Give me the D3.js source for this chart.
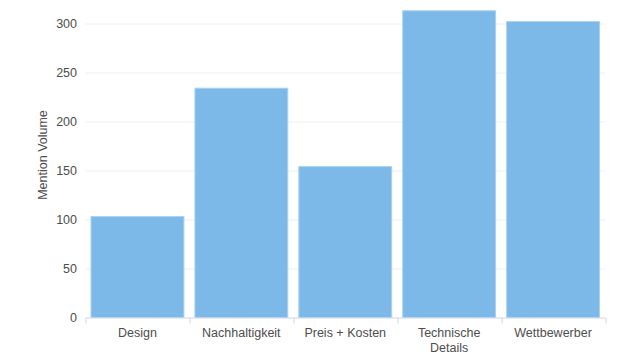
<!DOCTYPE html>
<html>
<head>
<meta charset="utf-8">
<script src="https://cdn.jsdelivr.net/npm/d3@7"></script>
<style>
  body { margin: 0; background: #fff; }
  text { font-family: "Liberation Sans", Arial, sans-serif; }
</style>
</head>
<body>
<script>
var categories = ["Design", "Nachhaltigkeit", "Preis + Kosten", "Technische Details", "Wettbewerber"];
var mentions = [103, 234, 154, 313, 302];
var yTicks = [0, 50, 100, 150, 200, 250, 300];

var data = categories.map(function(c, i){ return {name: c, num: mentions[i]}; });

var W = 643, H = 364;
var margin = {top: 23.5, right: 38, bottom: 46.5, left: 85.5},
    width = W - margin.left - margin.right,
    height = H - margin.top - margin.bottom;

var svg = d3.select("body")
            .append("svg")
            .attr('width', W)
            .attr('height', H)
            .append("g")
            .attr('transform', "translate(" + margin.left + "," + margin.top + ")");

var yScale = d3.scaleLinear()
               .domain([0, 300])
               .range([height, 0]);

var xScale = d3.scaleBand()
               .domain(categories)
               .range([0, width])
               .paddingInner(0.106)
               .paddingOuter(0.053);

// grid lines
svg.append("g")
   .selectAll("line")
   .data(yTicks.filter(function(d){ return d > 0; }))
   .enter()
   .append("line")
   .attr('x1', 0)
   .attr('x2', width)
   .attr('y1', function(d){ return Math.round(yScale(d)) + 0.5; })
   .attr('y2', function(d){ return Math.round(yScale(d)) + 0.5; })
   .attr('stroke', "#eeeeee")
   .attr('stroke-width', 1);

// bars
svg.selectAll("rect.bar")
   .data(data)
   .enter()
   .append("rect")
   .attr('class', "bar")
   .attr('x', function(d){ return xScale(d.name); })
   .attr('y', function(d){ return yScale(d.num); })
   .attr('width', xScale.bandwidth())
   .attr('height', function(d){ return height - yScale(d.num); })
   .attr('fill', "#7cb9e8")
   .attr('stroke', "#a9d2f1")
   .attr('stroke-width', 1);

// y axis (labels only)
var yAxis = d3.axisLeft(yScale)
              .tickValues(yTicks)
              .tickSize(0)
              .tickPadding(8.5);

var yg = svg.append("g").call(yAxis);
yg.select(".domain").remove();
yg.selectAll("text")
  .attr('fill', "#4d4d4d")
  .style('font-size', "12.5px");

// x axis line + ticks at band edges
var xg = svg.append("g")
   .attr('transform', "translate(0," + height + ")");

xg.append("line")
  .attr('x1', 0).attr('x2', width)
  .attr('y1', 0.5).attr('y2', 0.5)
  .attr('stroke', "#ccd6eb");

var step = xScale.step();
xg.selectAll("line.tick")
  .data(d3.range(categories.length + 1))
  .enter()
  .append("line")
  .attr('class', "tick")
  .attr('x1', function(i){ return Math.round(xScale(categories[0]) - step * xScale.paddingInner() / 2 + i * step) + 0.5; })
  .attr('x2', function(i){ return Math.round(xScale(categories[0]) - step * xScale.paddingInner() / 2 + i * step) + 0.5; })
  .attr('y1', 0)
  .attr('y2', 6)
  .attr('stroke', "#ccd6eb");

var labels = xg.selectAll("text.cat")
  .data(data)
  .enter()
  .append("text")
  .attr('class', "cat")
  .attr('x', function(d){ return xScale(d.name) + xScale.bandwidth() / 2; })
  .attr('y', 19)
  .attr('text-anchor', "middle")
  .attr('fill', "#4d4d4d")
  .style('font-size', "12.5px");

labels.each(function(d){
  var words = d.name === "Technische Details" ? ["Technische", "Details"] : [d.name];
  var t = d3.select(this);
  words.forEach(function(w, i){
    t.append("tspan")
     .attr('x', xScale(d.name) + xScale.bandwidth() / 2)
     .attr('dy', i === 0 ? 0 : 15)
     .text(w);
  });
});

// y axis title
svg.append("text")
   .attr('transform', "translate(" + (47 - margin.left) + "," + (155 - margin.top) + ") rotate(-90)")
   .attr('text-anchor', "middle")
   .attr('fill', "#4d4d4d")
   .style('font-size', "12.5px")
   .text("Mention Volume");
</script>
</body>
</html>
